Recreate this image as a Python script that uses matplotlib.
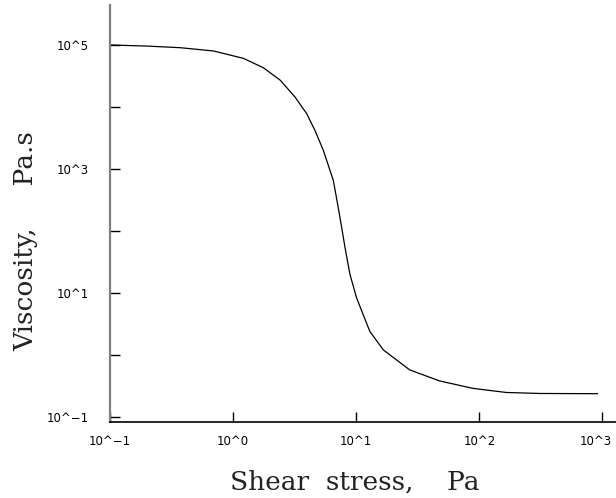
import matplotlib
matplotlib.use("Agg")
import matplotlib.pyplot as plt
from matplotlib.ticker import FixedLocator, FixedFormatter, NullLocator
from matplotlib.transforms import ScaledTranslation

# Flow curve: viscosity vs shear stress
shear_stress = [0.1, 0.2, 0.372, 0.693, 1.213, 1.762, 2.41, 3.18, 3.96, 4.62,
                5.41, 6.52, 7.14, 7.62, 8.11, 8.89, 10.07, 12.9, 16.6, 27.2,
                47.6, 88.7, 165.6, 308, 910]
viscosity = [1.0e5, 9.6e4, 9.04e4, 8.0e4, 6.08e4, 4.29e4, 2.71e4, 1.45e4,
             7.8e3, 4.19e3, 1.99e3, 649, 239, 113.5, 53.8, 20.0, 8.32, 2.40,
             1.21, 0.575, 0.382, 0.290, 0.249, 0.240, 0.238]

x_ticks = [0.1, 1, 10, 100, 1000]
x_tick_labels = ["10^\u22121", "10^0", "10^1", "10^2", "10^3"]
y_ticks = [0.1, 1, 10, 100, 1000, 1e4, 1e5]
y_tick_labels = ["10^\u22121", "", "10^1", "", "10^3", "", "10^5"]

fig = plt.figure(figsize=(6.16, 4.98), dpi=100)
ax = fig.add_axes([0.1786, 0.1526, 0.8214, 0.8374])

ax.plot(shear_stress, viscosity, color="black", linewidth=0.9)

ax.set_xscale("log")
ax.set_yscale("log")
ax.set_xlim(10 ** -1.0, 10 ** 3.11)
ax.set_ylim(10 ** -1.08, 10 ** 5.645)

ax.xaxis.set_major_locator(FixedLocator(x_ticks))
ax.xaxis.set_major_formatter(FixedFormatter(x_tick_labels))
ax.xaxis.set_minor_locator(NullLocator())
ax.yaxis.set_major_locator(FixedLocator(y_ticks))
ax.yaxis.set_major_formatter(FixedFormatter(y_tick_labels))
ax.yaxis.set_minor_locator(NullLocator())

for side in ("top", "right"):
    ax.spines[side].set_visible(False)
ax.spines["left"].set_color("#808080")
ax.spines["left"].set_linewidth(1.6)
ax.spines["bottom"].set_color("black")
ax.spines["bottom"].set_linewidth(1.2)

ax.tick_params(axis="x", direction="in", length=7, width=1, color="black", pad=9)
ax.tick_params(axis="y", direction="in", length=7, width=1, color="black", pad=15)
for lbl in ax.get_xticklabels() + ax.get_yticklabels():
    lbl.set_fontfamily("DejaVu Sans")
    lbl.set_fontsize(8.5)

# keep the rightmost stress label inside the canvas
last = ax.xaxis.get_major_ticks()[-1].label1
last.set_transform(last.get_transform()
                   + ScaledTranslation(-5 / 72, 0, fig.dpi_scale_trans))

label_font = dict(family="DejaVu Serif", size=19, color="#222222")
fig.text(0.576, 0.032, "Shear  stress,    Pa", ha="center", va="center",
         **label_font)
fig.text(0.041, 0.516, "Viscosity,     Pa.s", ha="center", va="center",
         rotation=90, **label_font)

fig.savefig("out.png", dpi=100)
